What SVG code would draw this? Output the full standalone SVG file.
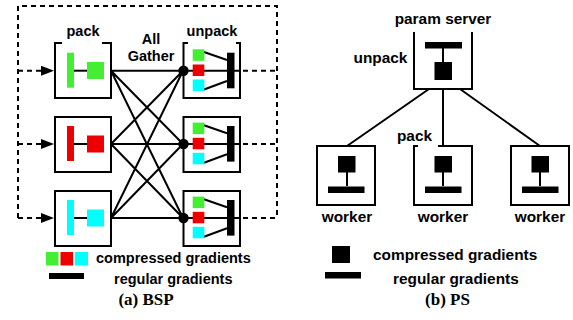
<svg xmlns="http://www.w3.org/2000/svg" width="573" height="320" viewBox="0 0 573 320">
<style>
.box{fill:none;stroke:#000;stroke-width:2}
.ln{stroke:#000;stroke-width:2;fill:none}
.dash{stroke:#000;stroke-width:2;fill:none;stroke-dasharray:5 4}
.t{font-family:"Liberation Sans",Arial,sans-serif;font-weight:bold;fill:#000}
.l{font-size:14.5px}
.r{font-size:15.4px}
.cap{font-family:"Liberation Serif","Times New Roman",serif;font-weight:bold;font-size:17px;fill:#000}
.g{fill:#44ee33}.rd{fill:#ee0000}.c{fill:#00ffff}.k{fill:#000}
</style>
<defs>
<marker id="ah" markerWidth="14" markerHeight="10" refX="13" refY="5" orient="auto" markerUnits="userSpaceOnUse">
<path d="M0,0 L13,5 L0,10 Z" fill="#000"/>
</marker>
</defs>
<rect width="573" height="320" fill="#fff"/>

<g id="connectors">
<path class="dash" d="M18,218 V6 H277 V218"/>
<path class="dash" d="M18,70.7 H54" marker-end="url(#ah)"/>
<path class="dash" d="M18,144 H54" marker-end="url(#ah)"/>
<path class="dash" d="M18,218 H54" marker-end="url(#ah)"/>
<path class="dash" d="M234,70.7 H277 M234,144 H277 M234,218 H277"/>
<path class="ln" d="M111,70.7 L183,70.7 M111,70.7 L183,144 M111,70.7 L183,218 M111,144 L183,70.7 M111,144 L183,144 M111,144 L183,218 M111,218 L183,70.7 M111,218 L183,144 M111,218 L183,218"/>
<path class="ln" d="M429,89 L347,146 M443,89 V146 M460,89 L540,146"/>
</g>

<g id="pack1">
<path class="box" d="M62,43 H55 V98 H111 V43 H102"/>
<rect class="g" x="67" y="52.7" width="7" height="35"/>
<path class="ln" d="M74,70.7 H87"/>
<rect class="g" x="87" y="62" width="17" height="17"/>
</g>
<g id="pack2">
<rect class="box" x="55" y="117" width="56" height="55"/>
<rect class="rd" x="67" y="126" width="7" height="35"/>
<path class="ln" d="M74,144 H87"/>
<rect class="rd" x="87" y="135.5" width="17" height="17"/>
</g>
<g id="pack3">
<rect class="box" x="55" y="191" width="56" height="55"/>
<rect class="c" x="67" y="200" width="7" height="35"/>
<path class="ln" d="M74,218 H87"/>
<rect class="c" x="87" y="209.5" width="17" height="17"/>
</g>

<g id="unpack1">
<path class="box" d="M188,43 H183.5 V98 H240 V43 H236"/>
<path class="ln" d="M204,52 L227,60 M183,70.7 H227 M204,89.5 L227,81"/>
<rect class="g" x="192.7" y="49.3" width="11.6" height="11.5"/>
<rect class="rd" x="192.7" y="64.5" width="11.6" height="11.5"/>
<rect class="c" x="192.7" y="79.5" width="11.6" height="11.5"/>
<rect class="k" x="227" y="52.7" width="7.5" height="35.6"/>
<circle cx="183.5" cy="70.7" r="5.2" fill="#000"/>
</g>
<g id="unpack2">
<rect class="box" x="183.5" y="117" width="56.5" height="55"/>
<path class="ln" d="M204,125.3 L227,133.3 M183,144 H227 M204,162.8 L227,154.3"/>
<rect class="g" x="192.7" y="122.6" width="11.6" height="11.5"/>
<rect class="rd" x="192.7" y="137.8" width="11.6" height="11.5"/>
<rect class="c" x="192.7" y="152.8" width="11.6" height="11.5"/>
<rect class="k" x="227" y="126" width="7.5" height="35.6"/>
<circle cx="183.5" cy="144" r="5.2" fill="#000"/>
</g>
<g id="unpack3">
<rect class="box" x="183.5" y="191" width="56.5" height="55"/>
<path class="ln" d="M204,199.3 L227,207.3 M183,218 H227 M204,236.8 L227,228.3"/>
<rect class="g" x="192.7" y="196.6" width="11.6" height="11.5"/>
<rect class="rd" x="192.7" y="211.8" width="11.6" height="11.5"/>
<rect class="c" x="192.7" y="226.8" width="11.6" height="11.5"/>
<rect class="k" x="227" y="200" width="7.5" height="35.6"/>
<circle cx="183.5" cy="218" r="5.2" fill="#000"/>
</g>

<g id="labelsA">
<text class="t l" x="83" y="36" text-anchor="middle">pack</text>
<text class="t l" x="212" y="36" text-anchor="middle">unpack</text>
<text class="t l" x="151" y="44" text-anchor="middle">All</text>
<text class="t l" x="151" y="61" text-anchor="middle">Gather</text>
</g>

<g id="legendA">
<rect class="g" x="46" y="252" width="12.5" height="13.5"/>
<rect class="rd" x="60.5" y="252" width="12.5" height="13.5"/>
<rect class="c" x="75" y="252" width="13" height="13.5"/>
<rect class="k" x="49" y="273" width="35" height="6"/>
<text class="t l" x="96" y="262.5">compressed gradients</text>
<text class="t l" x="114" y="283.5">regular gradients</text>
<text class="cap" x="146" y="304.5" text-anchor="middle">(a) BSP</text>
</g>

<g id="server">
<path class="box" d="M414,32 V89 H472 V32"/>
<rect class="k" x="425" y="42" width="37" height="6.5"/>
<path class="ln" d="M443,48 V62"/>
<rect class="k" x="434.5" y="62" width="17.5" height="18"/>
<text class="t r" x="443" y="23.5" text-anchor="middle">param server</text>
<text class="t r" x="380.5" y="63" text-anchor="middle">unpack</text>
</g>

<g id="worker1">
<rect class="box" x="317" y="146" width="58" height="59"/>
<rect class="k" x="338" y="156" width="17.5" height="16.5"/>
<path class="ln" d="M347,172 V186"/>
<rect class="k" x="328" y="186.5" width="36.5" height="6.5"/>
<text class="t r" x="347" y="222" text-anchor="middle">worker</text>
</g>
<g id="worker2">
<path class="box" d="M418,146 H414 V205 H472 V146 H438"/>
<rect class="k" x="434.5" y="156" width="17.5" height="16.5"/>
<path class="ln" d="M443,172 V186"/>
<rect class="k" x="425" y="186.5" width="36.5" height="6.5"/>
<text class="t r" x="443" y="222" text-anchor="middle">worker</text>
<text class="t r" x="414.5" y="141" text-anchor="middle">pack</text>
</g>
<g id="worker3">
<rect class="box" x="511" y="146" width="58" height="59"/>
<rect class="k" x="531.5" y="156" width="17.5" height="16.5"/>
<path class="ln" d="M540,172 V186"/>
<rect class="k" x="522" y="186.5" width="36.5" height="6.5"/>
<text class="t r" x="540" y="222" text-anchor="middle">worker</text>
</g>

<g id="legendB">
<rect class="k" x="332" y="246" width="18" height="17"/>
<rect class="k" x="325" y="272" width="36" height="6.5"/>
<text class="t r" x="373" y="260">compressed gradients</text>
<text class="t r" x="393" y="283.5">regular gradients</text>
<text class="cap" x="447.5" y="304.5" text-anchor="middle">(b) PS</text>
</g>
</svg>
